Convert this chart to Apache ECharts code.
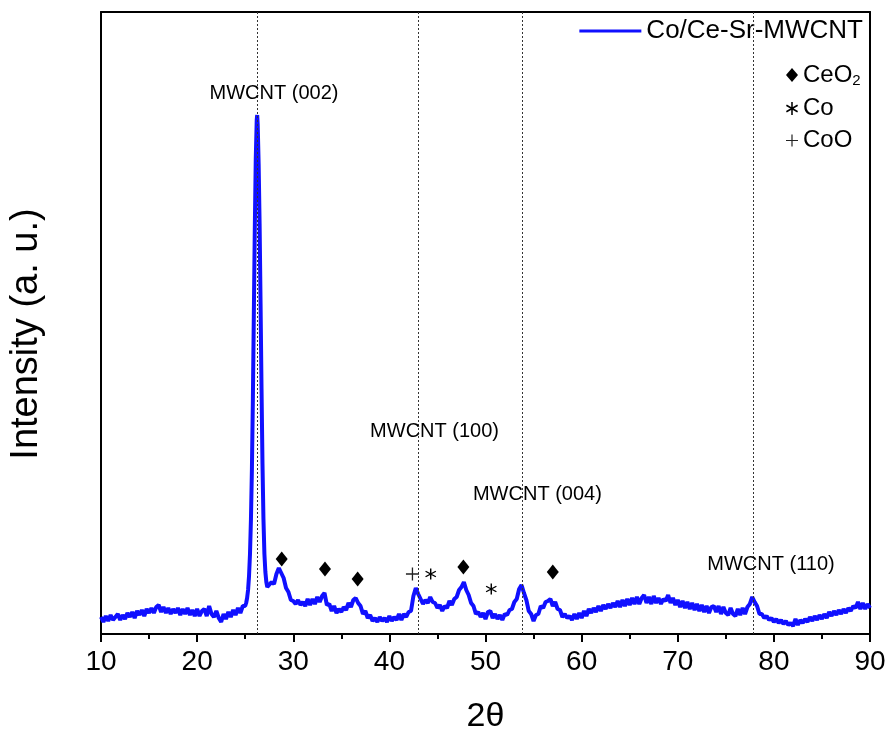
<!DOCTYPE html>
<html>
<head>
<meta charset="utf-8">
<script src="https://cdn.jsdelivr.net/npm/echarts@6/dist/echarts.min.js"></script>
<style>html,body{margin:0;padding:0;background:#fff;}#chart{width:890px;height:747px;}</style>
</head>
<body>
<div id="chart"></div>
<script>
// XRD scan: [2θ, intensity (a.u.)]
const xrdScan = [
[10.00,17],[10.25,12],[10.50,18],[10.75,13],[11.00,19],[11.25,14],[11.50,17],[11.75,20],[12.00,14],[12.25,19],[12.50,15],[12.75,21],
[13.00,17],[13.25,22],[13.50,16],[13.75,23],[14.00,19],[14.25,24],[14.50,18],[14.75,25],[15.00,21],[15.25,26],[15.50,21],[15.75,27],
[16.00,29],[16.25,22],[16.50,27],[16.75,21],[17.00,26],[17.25,20],[17.50,25],[17.75,21],[18.00,26],[18.25,19],[18.50,25],[18.75,20],
[19.00,26],[19.25,19],[19.50,24],[19.75,18],[20.00,25],[20.25,18],[20.50,23],[20.75,25],[21.00,18],[21.25,28],[21.50,20],[21.75,17],
[22.00,23],[22.25,16],[22.50,12],[22.75,20],[23.00,15],[23.25,22],[23.50,17],[23.75,24],[24.00,19],[24.25,26],[24.50,21],[24.75,28],
[25.00,28],[25.10,31],[25.20,36],[25.30,44],[25.40,58],[25.50,80],[25.60,115],[25.70,165],[25.80,235],[25.90,320],[26.00,405],
[26.10,475],[26.20,514],[26.25,519],[26.30,510],[26.40,470],[26.50,410],[26.60,330],[26.70,245],[26.80,170],[26.90,115],[27.00,80],
[27.10,62],[27.20,52],[27.30,47],[27.40,45],[27.50,46],
[27.75,52],[28.00,50],[28.25,60],[28.50,66],[28.75,61],[29.00,56],[29.25,46],[29.50,42],[29.75,34],[30.00,33],[30.25,30],[30.50,34],
[30.75,29],[31.00,32],[31.25,28],[31.50,35],[31.75,29],[32.00,35],[32.25,30],[32.50,37],[32.75,32],[33.00,38],[33.25,41],[33.50,29],
[33.75,30],[34.00,23],[34.25,28],[34.50,21],[34.75,25],[35.00,22],[35.25,27],[35.50,24],[35.75,31],[36.00,27],[36.25,34],[36.50,36],
[36.75,31],[37.00,28],[37.25,20],[37.50,23],[37.75,16],[38.00,19],[38.25,13],[38.50,16],[38.75,12],[39.00,17],[39.25,13],[39.50,16],
[39.75,12],[40.00,18],[40.25,13],[40.50,17],[40.75,14],[41.00,20],[41.25,14],[41.50,20],[41.75,17],[42.00,22],[42.25,23],[42.50,38],
[42.75,46],[43.00,40],[43.25,35],[43.50,30],[43.75,34],[44.00,31],[44.25,37],[44.50,32],[44.75,31],[45.00,26],[45.25,29],[45.50,23],
[45.75,28],[46.00,26],[46.25,33],[46.50,29],[46.75,35],[47.00,37],[47.25,44],[47.50,47],[47.75,52],[48.00,44],[48.25,39],[48.50,31],
[48.75,28],[49.00,20],[49.25,22],[49.50,17],[49.75,21],[50.00,15],[50.25,22],[50.50,23],[50.75,16],[51.00,20],[51.25,15],[51.50,19],
[51.75,14],[52.00,20],[52.25,19],[52.50,24],[52.75,25],[53.00,32],[53.25,35],[53.50,45],[53.75,49],[54.00,41],[54.25,34],[54.50,23],
[54.75,20],[55.00,13],[55.25,19],[55.50,20],[55.75,28],[56.00,26],[56.25,32],[56.50,33],[56.75,35],[57.00,28],[57.25,32],[57.50,25],
[57.75,24],[58.00,17],[58.25,20],[58.50,16],[58.75,18],[59.00,14],[59.25,20],[59.50,15],[59.75,21],[60.00,16],[60.25,23],[60.50,18],
[60.75,25],[61.00,21],[61.25,26],[61.50,22],[61.75,28],[62.00,23],[62.25,29],[62.50,25],[62.75,30],[63.00,26],[63.25,31],[63.50,27],
[63.75,33],[64.00,27],[64.25,34],[64.50,28],[64.75,35],[65.00,29],[65.25,36],[65.50,30],[65.75,37],[66.00,30],[66.25,36],[66.50,39],
[66.75,31],[67.00,37],[67.25,30],[67.50,38],[67.75,31],[68.00,36],[68.25,30],[68.50,35],[68.75,33],[69.00,39],[69.25,31],[69.50,36],
[69.75,29],[70.00,34],[70.25,27],[70.50,33],[70.75,26],[71.00,32],[71.25,25],[71.50,31],[71.75,24],[72.00,30],[72.25,23],[72.50,29],
[72.75,22],[73.00,28],[73.25,21],[73.50,27],[73.75,28],[74.00,22],[74.25,28],[74.50,20],[74.75,27],[75.00,21],[75.25,19],[75.50,26],
[75.75,20],[76.00,18],[76.25,25],[76.50,19],[76.75,26],[77.00,20],[77.25,27],[77.50,30],[77.75,37],[78.00,32],[78.25,28],[78.50,20],
[78.75,20],[79.00,16],[79.25,18],[79.50,14],[79.75,16],[80.00,12],[80.25,15],[80.50,11],[80.75,14],[81.00,10],[81.25,13],[81.50,9],
[81.75,11],[82.00,8],[82.25,15],[82.50,9],[82.75,14],[83.00,11],[83.25,15],[83.50,12],[83.75,17],[84.00,13],[84.25,18],[84.50,14],
[84.75,19],[85.00,15],[85.25,20],[85.50,16],[85.75,22],[86.00,18],[86.25,23],[86.50,19],[86.75,24],[87.00,20],[87.25,25],[87.50,21],
[87.75,26],[88.00,23],[88.25,28],[88.50,26],[88.75,32],[89.00,25],[89.25,31],[89.50,25],[89.75,30],[90.00,26]
];
// MWCNT reference lines (2θ)
const mwcntLines = [26.3, 43.0, 53.8, 77.9];
// Peak labels [2θ, intensity, text]
const peakLabels = [[28.0,541,'MWCNT (002)'],[44.7,203,'MWCNT (100)'],[55.4,140,'MWCNT (004)'],[79.7,70,'MWCNT (110)']];
// Phase markers
const ceo2Marks = [[28.8,75],[33.3,65],[36.7,55],[47.7,67],[57.0,62]];
const coMarks = [[44.3,60],[50.6,45]];
const cooMarks = [[42.4,60]];
const xTicks = [10,20,30,40,50,60,70,80,90];

const FONT = '"Liberation Sans", Arial, sans-serif';
const asterisk = 'path://M4.4,0L5.6,0L5.6,10L4.4,10Z M0.37,3.02L0.97,1.98L9.63,6.98L9.03,8.02Z M0.97,8.02L0.37,6.98L9.03,1.98L9.63,3.02Z';
const plus = 'path://M4.5,0L5.5,0L5.5,4.5L10,4.5L10,5.5L5.5,5.5L5.5,10L4.5,10L4.5,5.5L0,5.5L0,4.5L4.5,4.5Z';
const boxLine = {show:true, onZero:false, lineStyle:{color:'#000', width:2}};

const chart = echarts.init(document.getElementById('chart'), null, {renderer:'canvas'});
chart.setOption({
  animation: false,
  backgroundColor: '#fff',
  grid: {left: 98, right: 20, top: 12, bottom: 113},
  legend: [
    {data:[{name:'Co/Ce-Sr-MWCNT', icon:'rect'}], right: 22, top: 13, itemWidth: 62, itemHeight: 3, itemGap: 0,
     textStyle:{fontFamily: FONT, fontSize: 26, color:'#000'}},
    {data:[{name:'CeO2', icon:'diamond'},{name:'Co', icon: asterisk},{name:'CoO', icon: plus}],
     orient:'vertical', left: 781, top: 58, itemWidth: 12, itemHeight: 14, itemGap: 8,
     textStyle:{fontFamily: FONT, fontSize: 24, color:'#000', rich:{sub:{fontFamily: FONT, fontSize: 15, verticalAlign:'bottom', padding:[12,0,0,0]}}},
     formatter: function(n){ return n === 'CeO2' ? 'CeO{sub|2}' : n; }}
  ],
  xAxis: [
    {type:'value', min: 10, max: 90, interval: 10, position:'bottom',
     axisLine: boxLine,
     axisTick:{show:true, inside:false, length:8, lineStyle:{color:'#000', width:2}},
     minorTick:{show:true, splitNumber:2, length:5, lineStyle:{color:'#000', width:2}},
     splitLine:{show:false},
     axisLabel:{margin: 14, fontFamily: FONT, fontSize: 28, color:'#000',
       formatter: function(v){ return xTicks.indexOf(v) >= 0 ? String(v) : ''; }},
     name:'2θ', nameLocation:'middle', nameGap: 66, nameTextStyle:{fontFamily: FONT, fontSize: 34, color:'#000'}},
    {type:'value', min: 10, max: 90, position:'top',
     axisLine: boxLine, axisTick:{show:false}, axisLabel:{show:false}, splitLine:{show:false}}
  ],
  yAxis: [
    {type:'value', min: 0, max: 622, position:'left',
     axisLine: boxLine, axisTick:{show:false}, axisLabel:{show:false}, splitLine:{show:false},
     name:'Intensity (a. u.)', nameLocation:'middle', nameGap: 55, nameRotate: 90,
     nameTextStyle:{fontFamily: FONT, fontSize: 38, color:'#000', padding:[0,22,0,0]}},
    {type:'value', min: 0, max: 622, position:'right',
     axisLine: boxLine, axisTick:{show:false}, axisLabel:{show:false}, splitLine:{show:false}}
  ],
  series: [
    {name:'Co/Ce-Sr-MWCNT', type:'line', data: xrdScan, showSymbol:false, symbol:'none',
     lineStyle:{color:'#1010ff', width:4}, itemStyle:{color:'#1010ff'}, z: 3,
     markLine:{silent:true, symbol:'none', label:{show:false},
       lineStyle:{color:'#333', type:[2,2], width:1},
       data: mwcntLines.map(function(v){ return {xAxis: v}; })}},
    {name:'labels', type:'scatter', data: peakLabels.map(function(p){ return {value:[p[0],p[1]], name:p[2]}; }),
     symbolSize: 0, silent:true, z: 5, itemStyle:{opacity:1},
     label:{show:true, position:'inside', formatter: function(p){ return p.name; }, fontFamily: FONT, fontSize: 20, color:'#000'}},
    {name:'CeO2', type:'scatter', data: ceo2Marks, symbol:'diamond', symbolSize:[12,15], itemStyle:{color:'#000', opacity:1}, z:5},
    {name:'Co', type:'scatter', data: coMarks, symbol: asterisk, symbolSize: 11, itemStyle:{color:'#000', opacity:1}, z:5},
    {name:'CoO', type:'scatter', data: cooMarks, symbol: plus, symbolSize: 13, itemStyle:{color:'#222', opacity:1}, z:5}
  ]
});
</script>
</body>
</html>
